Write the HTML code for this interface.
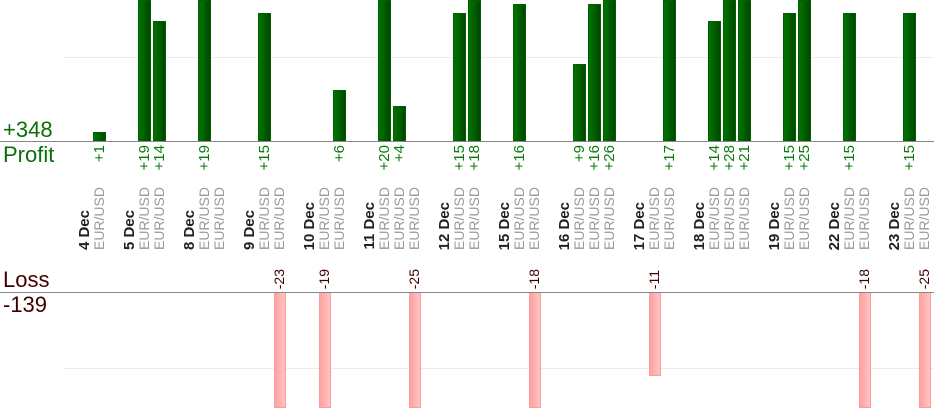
<!DOCTYPE html>
<html><head><meta charset="utf-8"><style>
body{margin:0;width:934px;height:420px;overflow:hidden;background:#fff;position:relative;font-family:"Liberation Sans",sans-serif}
div{position:absolute}
.ax{left:0;width:934px;height:1px;background:#888}
.gr{left:63px;width:871px;height:1px;background:#ececec}
.p{width:11px;border:1px solid #006000;border-bottom:none;background:linear-gradient(to right,#007400,#004800)}
.l{width:10px;top:292px;border:1px solid #ff9a9a;border-top:none;background:linear-gradient(to right,#ffa0a0,#ffc4c4)}
.v{writing-mode:vertical-rl;transform:rotate(180deg);width:13px;line-height:13px;white-space:nowrap}
.pv{top:145px;color:#0a7a0a;font-size:15px}
.lv{bottom:131px;color:#400000;font-size:14px}
.e{bottom:170px;color:#999;font-size:14px}
.d{bottom:170px;color:#222;font-size:15px;font-weight:bold}
.big{left:3px;font-size:22px;line-height:22px}
</style></head><body>
<div class="gr" style="top:57px"></div>
<div class="gr" style="top:368px"></div>
<div class="big" style="top:119px;color:#0a700a">+348</div>
<div class="big" style="top:144px;color:#0a700a">Profit</div>
<div class="big" style="top:269px;color:#400000">Loss</div>
<div class="big" style="top:294px;color:#400000">-139</div>

<div class="p" style="left:93px;top:132px;height:9px"></div>
<div class="p" style="left:138px;top:0;height:141px"></div>
<div class="p" style="left:153px;top:21px;height:120px"></div>
<div class="p" style="left:198px;top:0;height:141px"></div>
<div class="p" style="left:258px;top:13px;height:128px"></div>
<div class="p" style="left:333px;top:90px;height:51px"></div>
<div class="p" style="left:378px;top:0;height:141px"></div>
<div class="p" style="left:393px;top:106px;height:35px"></div>
<div class="p" style="left:453px;top:13px;height:128px"></div>
<div class="p" style="left:468px;top:0;height:141px"></div>
<div class="p" style="left:513px;top:4px;height:137px"></div>
<div class="p" style="left:573px;top:64px;height:77px"></div>
<div class="p" style="left:588px;top:4px;height:137px"></div>
<div class="p" style="left:603px;top:0;height:141px"></div>
<div class="p" style="left:663px;top:0;height:141px"></div>
<div class="p" style="left:708px;top:21px;height:120px"></div>
<div class="p" style="left:723px;top:0;height:141px"></div>
<div class="p" style="left:738px;top:0;height:141px"></div>
<div class="p" style="left:783px;top:13px;height:128px"></div>
<div class="p" style="left:798px;top:0;height:141px"></div>
<div class="p" style="left:843px;top:13px;height:128px"></div>
<div class="p" style="left:903px;top:13px;height:128px"></div>

<div class="l" style="left:274px;height:115px"></div>
<div class="l" style="left:319px;height:115px"></div>
<div class="l" style="left:409px;height:115px"></div>
<div class="l" style="left:529px;height:115px"></div>
<div class="l" style="left:649px;height:83px"></div>
<div class="l" style="left:859px;height:115px"></div>
<div class="l" style="left:919px;height:115px"></div>

<div class="ax" style="top:141px"></div>
<div class="ax" style="top:292px"></div>

<div class="v pv" style="left:93px">+1</div>
<div class="v pv" style="left:138px">+19</div>
<div class="v pv" style="left:153px">+14</div>
<div class="v pv" style="left:198px">+19</div>
<div class="v pv" style="left:258px">+15</div>
<div class="v pv" style="left:333px">+6</div>
<div class="v pv" style="left:378px">+20</div>
<div class="v pv" style="left:393px">+4</div>
<div class="v pv" style="left:453px">+15</div>
<div class="v pv" style="left:468px">+18</div>
<div class="v pv" style="left:513px">+16</div>
<div class="v pv" style="left:573px">+9</div>
<div class="v pv" style="left:588px">+16</div>
<div class="v pv" style="left:603px">+26</div>
<div class="v pv" style="left:663px">+17</div>
<div class="v pv" style="left:708px">+14</div>
<div class="v pv" style="left:723px">+28</div>
<div class="v pv" style="left:738px">+21</div>
<div class="v pv" style="left:783px">+15</div>
<div class="v pv" style="left:798px">+25</div>
<div class="v pv" style="left:843px">+15</div>
<div class="v pv" style="left:903px">+15</div>

<div class="v lv" style="left:273px">-23</div>
<div class="v lv" style="left:318px">-19</div>
<div class="v lv" style="left:408px">-25</div>
<div class="v lv" style="left:528px">-18</div>
<div class="v lv" style="left:648px">-11</div>
<div class="v lv" style="left:858px">-18</div>
<div class="v lv" style="left:918px">-25</div>

<div class="v d" style="left:78px">4 Dec</div>
<div class="v d" style="left:123px">5 Dec</div>
<div class="v d" style="left:183px">8 Dec</div>
<div class="v d" style="left:243px">9 Dec</div>
<div class="v d" style="left:303px">10 Dec</div>
<div class="v d" style="left:363px">11 Dec</div>
<div class="v d" style="left:438px">12 Dec</div>
<div class="v d" style="left:498px">15 Dec</div>
<div class="v d" style="left:558px">16 Dec</div>
<div class="v d" style="left:633px">17 Dec</div>
<div class="v d" style="left:693px">18 Dec</div>
<div class="v d" style="left:768px">19 Dec</div>
<div class="v d" style="left:828px">22 Dec</div>
<div class="v d" style="left:888px">23 Dec</div>

<div class="v e" style="left:93px">EUR/USD</div>
<div class="v e" style="left:138px">EUR/USD</div>
<div class="v e" style="left:153px">EUR/USD</div>
<div class="v e" style="left:198px">EUR/USD</div>
<div class="v e" style="left:213px">EUR/USD</div>
<div class="v e" style="left:258px">EUR/USD</div>
<div class="v e" style="left:273px">EUR/USD</div>
<div class="v e" style="left:318px">EUR/USD</div>
<div class="v e" style="left:333px">EUR/USD</div>
<div class="v e" style="left:378px">EUR/USD</div>
<div class="v e" style="left:393px">EUR/USD</div>
<div class="v e" style="left:408px">EUR/USD</div>
<div class="v e" style="left:453px">EUR/USD</div>
<div class="v e" style="left:468px">EUR/USD</div>
<div class="v e" style="left:513px">EUR/USD</div>
<div class="v e" style="left:528px">EUR/USD</div>
<div class="v e" style="left:573px">EUR/USD</div>
<div class="v e" style="left:588px">EUR/USD</div>
<div class="v e" style="left:603px">EUR/USD</div>
<div class="v e" style="left:648px">EUR/USD</div>
<div class="v e" style="left:663px">EUR/USD</div>
<div class="v e" style="left:708px">EUR/USD</div>
<div class="v e" style="left:723px">EUR/USD</div>
<div class="v e" style="left:738px">EUR/USD</div>
<div class="v e" style="left:783px">EUR/USD</div>
<div class="v e" style="left:798px">EUR/USD</div>
<div class="v e" style="left:843px">EUR/USD</div>
<div class="v e" style="left:858px">EUR/USD</div>
<div class="v e" style="left:903px">EUR/USD</div>
<div class="v e" style="left:918px">EUR/USD</div>
</body></html>
